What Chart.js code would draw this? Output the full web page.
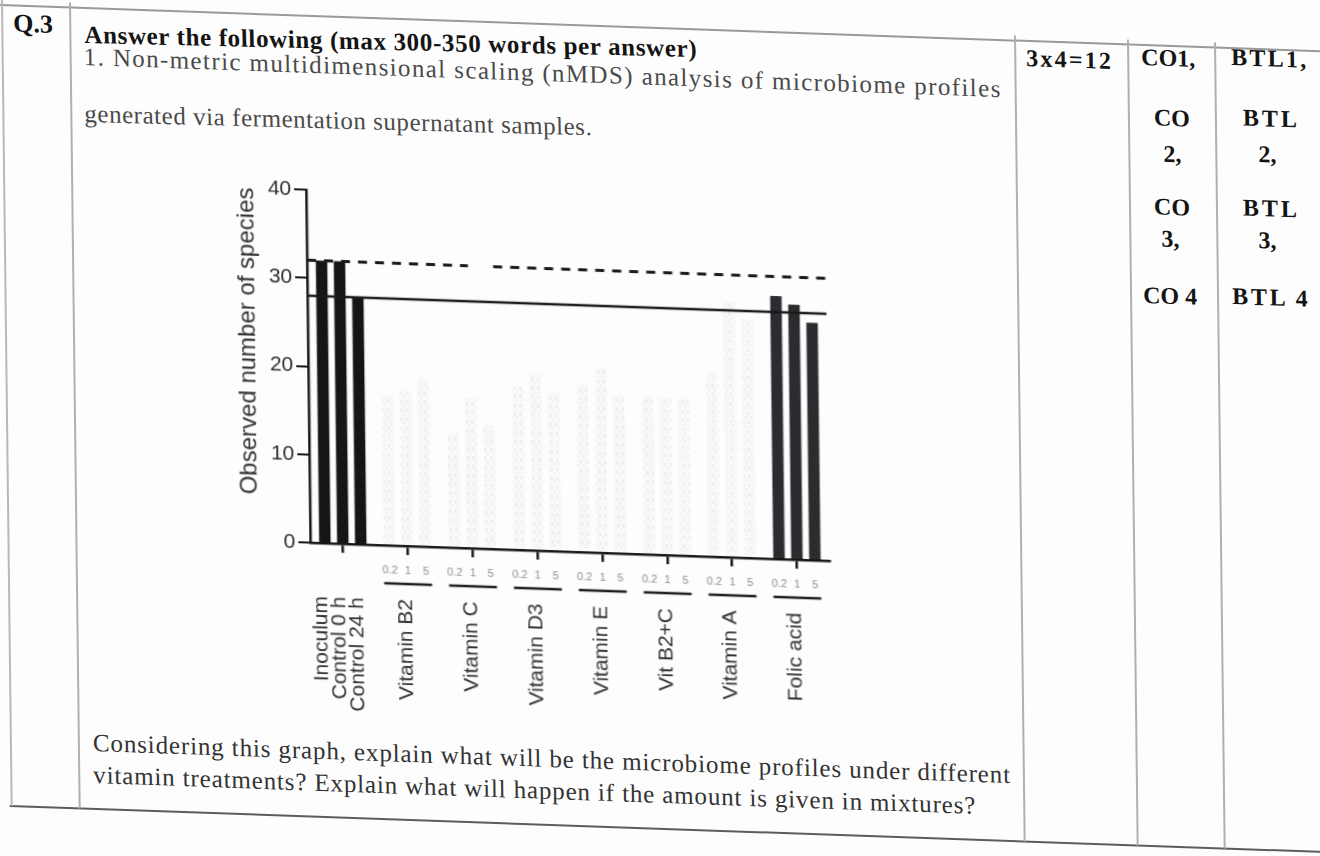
<!DOCTYPE html>
<html>
<head>
<meta charset="utf-8">
<title>Observed number of species</title>
<script src="https://cdn.jsdelivr.net/npm/chart.js@4.4.1/dist/chart.umd.min.js"></script>
<style>
  html, body { margin: 0; padding: 0; width: 1320px; height: 856px; overflow: hidden; background: #fdfdfd; }
  #sheet { position: absolute; left: 0; top: 0; width: 1400px; height: 900px;
           transform-origin: 0 0; transform: matrix(1, 0.035, 0.012, 1, 0, 0); }
  .rule { position: absolute; }
  .t { position: absolute; white-space: nowrap; font-family: "Liberation Serif", "Times New Roman", serif;
       font-size: 25px; line-height: 25px; color: #3a3a3a; transform-origin: 0 50%; }
  .b { font-weight: bold; color: #141414; }
  .r { font-size: 24px; line-height: 24px; }
  #chartBox { position: absolute; left: 196px; top: 160px; width: 654px; height: 560px; }
</style>
</head>
<body>
<div id="sheet">
  <!-- table rules -->
  <div class="rule" style="left:0;top:4px;width:1400px;height:1.5px;background:#9a9a9a"></div>
  <div class="rule" style="left:0;top:805px;width:1400px;height:2px;background:#5c5c5c"></div>
  <div class="rule" style="left:1px;top:0;width:1.5px;height:806px;background:#b8b8b8"></div>
  <div class="rule" style="left:69px;top:0;width:1.5px;height:806px;background:#b0b0b0"></div>
  <div class="rule" style="left:1014px;top:0;width:1.5px;height:806px;background:#b0b0b0"></div>
  <div class="rule" style="left:1127px;top:0;width:1.5px;height:806px;background:#b0b0b0"></div>
  <div class="rule" style="left:1214px;top:0;width:1.5px;height:806px;background:#b0b0b0"></div>

  <!-- question text -->
  <div class="t b" style="left:13px;top:9.5px;font-size:26px;line-height:26px">Q.3</div>
  <div class="t b" style="left:84px;top:18.5px;transform:rotate(-0.7deg)" data-w="612" data-fit="ls">Answer the following (max 300-350 words per answer)</div>
  <div class="t" style="left:83px;top:41px;color:#4a4a4a" data-w="917" data-fit="ls">1. Non-metric multidimensional scaling (nMDS) analysis of microbiome profiles</div>
  <div class="t" style="left:83px;top:97.5px;color:#4a4a4a;transform:rotate(-0.5deg)" data-w="507" data-fit="ls">generated via fermentation supernatant samples.</div>
  <div class="t" style="left:84px;top:727px;color:#333" data-w="917" data-fit="ls">Considering this graph, explain what will be the microbiome profiles under different</div>
  <div class="t" style="left:84px;top:758.5px;color:#333" data-w="882" data-fit="ls">vitamin treatments? Explain what will happen if the amount is given in mixtures?</div>

  <!-- marks / outcome columns -->
  <div class="t b r" style="left:1026px;top:9.6px" data-w="85" data-fit="ls">3x4=12</div>
  <div class="t b r" style="left:1141px;top:5px">CO1,</div>
  <div class="t b r" style="left:1231px;top:2px" data-w="75" data-fit="ls">BTL1,</div>
  <div class="t b r" style="left:1153px;top:65px">CO</div>
  <div class="t b r" style="left:1162px;top:100.8px">2,</div>
  <div class="t b r" style="left:1242px;top:62px" data-w="54" data-fit="ls">BTL</div>
  <div class="t b r" style="left:1257px;top:97.5px">2,</div>
  <div class="t b r" style="left:1152px;top:154px">CO</div>
  <div class="t b r" style="left:1159px;top:186px">3,</div>
  <div class="t b r" style="left:1241px;top:152px" data-w="54" data-fit="ls">BTL</div>
  <div class="t b r" style="left:1256px;top:184px">3,</div>
  <div class="t b r" style="left:1140px;top:243px">CO 4</div>
  <div class="t b r" style="left:1229px;top:241px" data-w="76" data-fit="ls">BTL 4</div>

  <div id="chartBox"><canvas id="chart" width="654" height="560"></canvas></div>
</div>

<script>
// ---- data ----
const controlLabels = ['Inoculum', 'Control 0 h', 'Control 24 h'];
const treatmentLabels = ['Vitamin B2', 'Vitamin C', 'Vitamin D3', 'Vitamin E', 'Vit B2+C', 'Vitamin A', 'Folic acid'];
const doseLabels = ['0.2', '1', '5'];
const yTickValues = [0, 10, 20, 30, 40];

// observed number of species
const controlValues = [32, 32, 28];                       // Inoculum, Control 0 h, Control 24 h
const dose02Values = [17, 13, 18.5, 19, 18, 21, 29.8];    // per treatment, 0.2
const dose1Values  = [17.5, 17, 20, 21, 17.8, 29, 28.9];  // per treatment, 1
const dose5Values  = [19, 14, 18, 18, 17.8, 27, 26.9];    // per treatment, 5

// ---- text fitting for the sheet ----
document.querySelectorAll('.t[data-w]').forEach(el => {
  const target = parseFloat(el.dataset.w);
  const diff = target - el.offsetWidth;
  const txt = el.textContent;
  if (el.dataset.fit === 'ws') {
    const n = (txt.match(/ /g) || []).length;
    if (n) el.style.wordSpacing = (diff / n) + 'px';
  } else {
    el.style.letterSpacing = (diff / Math.max(txt.length - 1, 1)) + 'px';
  }
});

// ---- chart ----
const groupLabels = [controlLabels.join(' / '), ...treatmentLabels];
const series = [
  [controlValues[0], ...dose02Values],
  [controlValues[1], ...dose1Values],
  [controlValues[2], ...dose5Values]
];

function speckle() {
  const c = document.createElement('canvas');
  c.width = 6; c.height = 9;
  const g = c.getContext('2d');
  g.fillStyle = '#f8f8f8'; g.fillRect(0, 0, 6, 9);
  g.fillStyle = '#ebebeb'; g.fillRect(1, 1, 2, 3); g.fillRect(4, 5, 1, 2);
  return g.createPattern(c, 'repeat');
}
const faint = speckle();
const barColor = i => (i === 0 ? '#151515' : i === groupLabels.length - 1 ? '#2c2c30' : faint);

// horizontal reference levels: inoculum (dashed) and 24 h control (solid)
const dashedLevel = controlValues[0];
const solidLevel = controlValues[2];

const referenceLines = {
  id: 'referenceLines',
  afterDatasetsDraw(chart) {
    const { ctx, chartArea, scales } = chart;
    const cw = scales.x.getPixelForValue(1) - scales.x.getPixelForValue(0);
    const gapA = scales.x.getPixelForValue(2) - 0.02 * cw;
    const gapB = scales.x.getPixelForValue(2) + 0.37 * cw;
    ctx.save();
    ctx.beginPath();
    ctx.rect(chartArea.left, chartArea.top - 5, chartArea.right - chartArea.left, chartArea.bottom - chartArea.top + 5);
    ctx.clip();
    ctx.strokeStyle = '#1a1a1a';
    // dashed
    const yd = scales.y.getPixelForValue(dashedLevel);
    ctx.lineWidth = 3;
    ctx.setLineDash([9, 8]);
    ctx.beginPath();
    ctx.moveTo(chartArea.left, yd); ctx.lineTo(gapA, yd);
    ctx.stroke();
    ctx.beginPath();
    ctx.moveTo(gapB, yd); ctx.lineTo(chartArea.right, yd);
    ctx.stroke();
    // solid
    const ys = scales.y.getPixelForValue(solidLevel);
    ctx.setLineDash([]);
    ctx.lineWidth = 2.5;
    ctx.beginPath();
    ctx.moveTo(chartArea.left, ys); ctx.lineTo(chartArea.right, ys);
    ctx.stroke();
    ctx.restore();
  }
};

const groupAxisLabels = {
  id: 'groupAxisLabels',
  afterDraw(chart) {
    const { ctx, chartArea } = chart;
    const base = chartArea.bottom;
    const metas = [0, 1, 2].map(i => chart.getDatasetMeta(i));
    ctx.save();
    ctx.textAlign = 'center';
    ctx.textBaseline = 'middle';
    for (let g = 1; g < groupLabels.length; g++) {
      ctx.font = '11px "Liberation Sans", Arial, sans-serif';
      ctx.fillStyle = '#8c8c8c';
      metas.forEach((m, d) => ctx.fillText(doseLabels[d], m.data[g].x, base + 25));
      ctx.strokeStyle = '#1c1c1c';
      ctx.lineWidth = 2.5;
      ctx.beginPath();
      ctx.moveTo(metas[0].data[g].x - 6, base + 38);
      ctx.lineTo(metas[2].data[g].x + 6, base + 38);
      ctx.stroke();
    }
    ctx.font = '21px "Liberation Sans", Arial, sans-serif';
    ctx.fillStyle = '#333';
    ctx.textAlign = 'right';
    const rotated = (text, x) => {
      ctx.save();
      ctx.translate(x, base + 53);
      ctx.rotate(-Math.PI / 2);
      ctx.fillText(text, 0, 0);
      ctx.restore();
    };
    controlLabels.forEach((t, d) => rotated(t, metas[d].data[0].x - 4));
    treatmentLabels.forEach((t, i) => rotated(t, chart.scales.x.getPixelForValue(i + 1) - 2));
    ctx.restore();
  }
};

new Chart(document.getElementById('chart'), {
  type: 'bar',
  data: {
    labels: groupLabels,
    datasets: series.map((vals, d) => ({
      label: doseLabels[d],
      data: vals,
      backgroundColor: vals.map((_, i) => barColor(i)),
      borderWidth: 0,
      categoryPercentage: 0.83,
      barPercentage: 0.64
    }))
  },
  options: {
    responsive: false,
    animation: false,
    devicePixelRatio: 1,
    layout: { padding: { top: 19, right: 27, left: 0, bottom: 0 } },
    plugins: { legend: { display: false }, tooltip: { enabled: false } },
    scales: {
      x: {
        type: 'category',
        offset: true,
        ticks: { display: false },
        grid: { display: true, drawOnChartArea: false, drawTicks: true, tickLength: 9,
                offset: false, color: '#151515', lineWidth: 2.5 },
        border: { display: true, color: '#151515', width: 2.5 },
        afterFit: s => { s.height = 188; }
      },
      y: {
        min: 0, max: 40,
        afterBuildTicks: s => { s.ticks = yTickValues.map(v => ({ value: v })); },
        ticks: { color: '#2e2e2e', padding: 3,
                 font: { family: '"Liberation Sans", Arial, sans-serif', size: 21 } },
        grid: { drawOnChartArea: false, drawTicks: true, tickLength: 12, color: '#151515', lineWidth: 2 },
        border: { display: true, color: '#151515', width: 2.5 },
        title: { display: true, text: 'Observed number of species', align: 'end', color: '#333',
                 font: { family: '"Liberation Sans", Arial, sans-serif', size: 24 },
                 padding: { top: 34, bottom: 0 } },
        afterFit: s => { s.width = 108; }
      }
    }
  },
  plugins: [referenceLines, groupAxisLabels]
});
</script>
</body>
</html>
